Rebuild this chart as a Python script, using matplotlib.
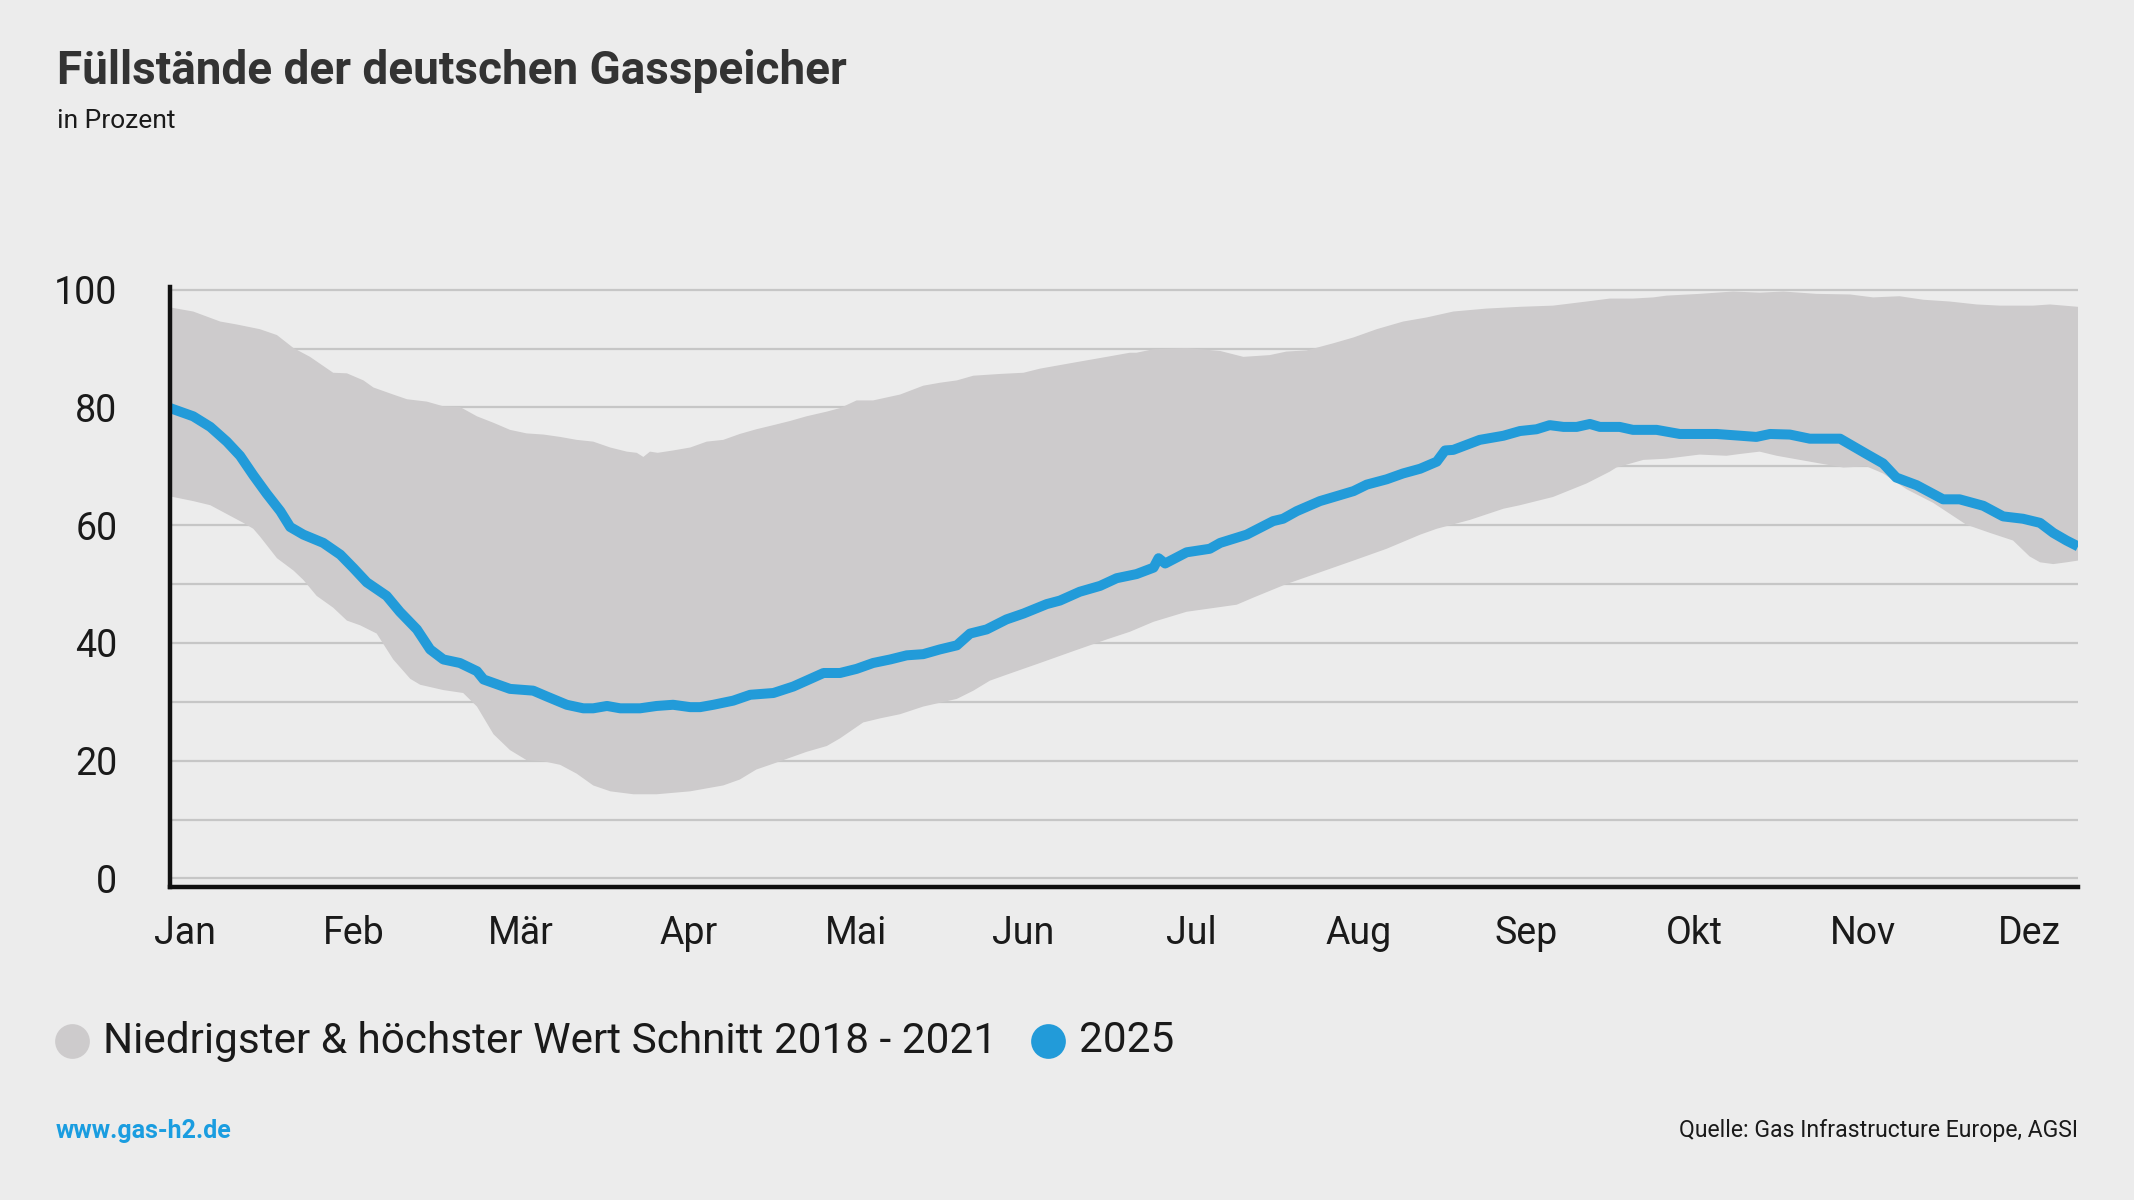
import matplotlib.pyplot as plt
from matplotlib.lines import Line2D
import numpy as np

plt.rcParams['font.family'] = ['Roboto', 'DejaVu Sans']

# band: lowest / highest value 2018-2021 (day of year, percent)
upper_x = [0, 4.2, 9.1, 12.1, 16.3, 19.4, 22.4, 25.4, 29.6, 32.1, 35.1, 36.9, 40.5, 43.0, 46.6,
           49.6, 52.6, 55.7, 58.7, 61.7, 64.7, 67.8, 70.8, 73.8, 76.8, 79.9, 82.9, 84.7, 85.9, 87.1,
           88.5, 91.3, 94.4, 97.4, 100.4, 103.4, 106.4, 109.5, 112.5, 115.5, 119.2, 121.6, 124.6,
           127.6, 132.5, 136.7, 139.7, 142.8, 145.8, 150.7, 154.9, 157.9, 163.9, 170.0, 174.2,
           175.4, 178.5, 184.5, 190.6, 194.8, 199.6, 202.6, 206.3, 211.1, 214.8, 219.0, 223.8,
           228.1, 232.9, 238.9, 245.0, 251.0, 257.1, 261.3, 265.5, 269.2, 271.6, 277.6, 283.7,
           288.5, 292.8, 298.8, 304.9, 309.1, 313.9, 318.2, 323.0, 327.9, 332.1, 338.1, 341.2, 346.3]
upper_y = [97.0, 96.3, 94.6, 94.1, 93.3, 92.3, 90.1, 88.6, 85.9, 85.8, 84.6, 83.4, 82.2, 81.4, 81.0,
           80.2, 80.1, 78.5, 77.4, 76.2, 75.6, 75.4, 75.0, 74.5, 74.2, 73.2, 72.5, 72.3, 71.6, 72.5,
           72.3, 72.7, 73.2, 74.2, 74.5, 75.5, 76.3, 77.0, 77.7, 78.5, 79.3, 79.9, 81.2,
           81.2, 82.2, 83.7, 84.2, 84.6, 85.4, 85.7, 85.9, 86.6, 87.6, 88.6, 89.3,
           89.3, 89.9, 90.1, 89.6, 88.6, 88.9, 89.5, 89.7, 90.9, 91.9, 93.3, 94.6,
           95.3, 96.3, 96.8, 97.1, 97.3, 98.0, 98.5, 98.5, 98.7, 99.0, 99.3, 99.7,
           99.5, 99.7, 99.3, 99.2, 98.7, 98.9, 98.3, 98.0, 97.5, 97.3, 97.3, 97.5, 97.1]

lower_x = [0, 4.2, 7.3, 10.3, 13.3, 15.1, 16.3, 19.4, 22.4, 24.2, 26.6, 29.6, 32.1, 34.5, 37.5,
           40.5, 43.6, 45.4, 49.6, 53.2, 55.7, 58.7, 61.7, 64.7, 67.8, 70.8, 73.8, 76.8, 79.9,
           84.1, 88.3, 94.4, 100.4, 103.4, 106.4, 109.5, 112.5, 115.5, 119.2, 121.6, 125.8,
           128.9, 132.5, 136.7, 142.8, 145.8, 148.8, 151.8, 157.9, 163.9, 170.0, 174.2,
           178.5, 184.5, 193.6, 196.6, 202.6, 208.7, 214.8, 220.8, 226.9, 229.9, 235.9, 242.0,
           245.0, 251.0, 257.1, 261.3, 262.5, 267.4, 271.6, 277.6, 282.5, 284.9, 288.5, 291.6,
           295.8, 299.4, 303.7, 307.9, 310.9, 315.2, 320.0, 326.0, 330.3, 334.5, 337.5, 339.4,
           341.8, 344.2, 346.3]
lower_y = [64.9, 64.1, 63.4, 61.9, 60.4, 59.4, 58.1, 54.4, 52.3, 50.7, 48.0, 46.0, 43.8, 43.0, 41.6,
           37.2, 33.9, 32.9, 32.0, 31.5, 29.2, 24.5, 21.8, 20.1, 19.9, 19.3, 17.8, 15.8, 14.8,
           14.3, 14.3, 14.8, 15.8, 16.8, 18.5, 19.5, 20.5, 21.5, 22.5, 23.8, 26.5,
           27.2, 27.9, 29.2, 30.5, 31.9, 33.6, 34.6, 36.6, 38.6, 40.6, 41.9,
           43.6, 45.3, 46.5, 47.7, 50.0, 52.0, 54.0, 56.0, 58.4, 59.4, 60.9, 62.8,
           63.4, 64.8, 67.1, 69.1, 69.8, 71.1, 71.3, 72.0, 71.8, 72.1, 72.5, 71.8,
           71.1, 70.5, 69.8, 70.0, 68.8, 66.1, 63.8, 60.1, 58.7, 57.4, 54.7, 53.7,
           53.4, 53.7, 54.0]

# 2025
x_2025 = [0, 4.2, 7.3, 10.3, 12.7, 15.1, 17.5, 20.0, 21.8, 24.2, 27.8, 30.9, 33.3, 35.7, 39.3,
          41.7, 44.8, 47.2, 49.6, 52.6, 55.7, 56.9, 58.7, 61.7, 65.9, 68.4, 72.0, 75.0, 76.8,
          79.3, 81.7, 85.3, 88.3, 91.3, 94.4, 96.2, 98.6, 102.2, 105.3, 109.5, 113.1, 115.5,
          118.6, 121.6, 124.6, 127.6, 130.7, 133.7, 136.7, 139.7, 142.8, 145.2, 148.2, 151.8,
          154.9, 159.1, 161.5, 165.1, 168.8, 171.8, 175.4, 178.5, 179.4, 180.6, 184.5, 188.7,
          190.6, 195.4, 200.2, 202.0, 204.5, 208.7, 212.3, 214.8, 217.2, 220.8, 223.8, 226.9,
          229.9, 231.4, 232.9, 237.7, 242.0, 245.0, 248.0, 250.4, 252.9, 255.3, 257.7, 259.5,
          263.1, 265.5, 269.8, 274.0, 280.7, 287.9, 290.4, 294.0, 297.6, 303.1, 307.9, 310.9,
          313.3, 317.0, 321.8, 324.8, 329.1, 332.7, 336.3, 339.4, 341.8, 344.2, 346.3]
y_2025 = [79.9, 78.5, 76.7, 74.2, 71.8, 68.5, 65.4, 62.4, 59.7, 58.4, 57.0, 55.0, 52.7, 50.3, 48.0,
          45.3, 42.3, 38.9, 37.2, 36.6, 35.2, 33.8, 33.2, 32.2, 31.9, 30.9, 29.5, 28.9, 28.9,
          29.3, 28.9, 28.9, 29.3, 29.5, 29.1, 29.1, 29.5, 30.2, 31.2, 31.5, 32.6, 33.6,
          34.9, 34.9, 35.6, 36.6, 37.2, 37.9, 38.1, 38.9, 39.6, 41.6, 42.3, 44.0,
          45.0, 46.6, 47.2, 48.7, 49.7, 51.0, 51.7, 52.8, 54.4, 53.5, 55.4, 56.0,
          57.0, 58.4, 60.7, 61.1, 62.4, 64.1, 65.1, 65.8, 66.9, 67.8, 68.8, 69.6,
          70.8, 72.7, 72.8, 74.5, 75.2, 76.0, 76.3, 77.0, 76.7, 76.7, 77.2, 76.7,
          76.7, 76.2, 76.2, 75.5, 75.5, 75.0, 75.5, 75.4, 74.7, 74.7, 72.1, 70.5,
          68.1, 66.8, 64.4, 64.4, 63.3, 61.5, 61.1, 60.4, 58.7, 57.4, 56.4]

months = ['Jan', 'Feb', 'Mär', 'Apr', 'Mai', 'Jun', 'Jul', 'Aug', 'Sep', 'Okt', 'Nov', 'Dez']
month_pos = [2.7, 33.4, 63.7, 94.2, 124.5, 154.9, 185.3, 215.7, 246.2, 276.7, 307.2, 337.5]

bg = '#ececec'
band_col = '#cdcbcc'
blue = '#229bd9'
txt = '#1a1a1a'

fig = plt.figure(figsize=(10.67, 6.0), dpi=200, facecolor=bg)
ax = fig.add_axes([0.0797, 0.2606, 0.9738 - 0.0797, 0.761 - 0.2606])
ax.set_facecolor(bg)

ax.fill(np.concatenate([upper_x, lower_x[::-1]]), np.concatenate([upper_y, lower_y[::-1]]),
        color=band_col, lw=0, zorder=2)
ax.plot(x_2025, y_2025, color=blue, lw=3.6, solid_capstyle='butt', solid_joinstyle='round', zorder=3)

ax.set_xlim(0, 346.3)
ax.set_ylim(-1.5, 100.5)
ax.set_yticks(range(0, 101, 20))
ax.set_yticks(range(10, 100, 20), minor=True)
ax.set_xticks(month_pos)
ax.set_xticklabels(months)
ax.grid(axis='y', which='both', color='#c6c6c6', lw=0.8, zorder=0)
ax.set_axisbelow(True)

for s in ['top', 'right']:
    ax.spines[s].set_visible(False)
for s in ['left', 'bottom']:
    ax.spines[s].set_color('#111111')
    ax.spines[s].set_linewidth(1.6)
    ax.spines[s].set_zorder(4)

ax.tick_params(axis='both', which='both', length=0, labelsize=13.5, colors=txt)
ax.tick_params(axis='y', pad=19)
ax.tick_params(axis='x', pad=10)

fig.text(0.0267, 0.930, 'Füllstände der deutschen Gasspeicher', fontsize=16.5, fontweight='bold',
         color='#333333', va='baseline')
fig.text(0.0267, 0.893, 'in Prozent', fontsize=9.5, color=txt, va='baseline')

# legend
fig.add_artist(Line2D([0.0338], [0.1325], transform=fig.transFigure, marker='o', ms=11.5,
                      color=band_col, lw=0))
fig.text(0.0483, 0.1325, 'Niedrigster & höchster Wert Schnitt 2018 - 2021', fontsize=15.2,
         color=txt, va='center')
fig.add_artist(Line2D([0.491], [0.1325], transform=fig.transFigure, marker='o', ms=11.5,
                      color=blue, lw=0))
fig.text(0.5056, 0.1325, '2025', fontsize=15.2, color=txt, va='center')

# footer
fig.text(0.0262, 0.0575, 'www.gas-h2.de', fontsize=9, fontweight='bold', color='#1a9de0', va='center')
fig.text(0.9738, 0.0575, 'Quelle: Gas Infrastructure Europe, AGSI', fontsize=8.3, color=txt,
         va='center', ha='right')

fig.savefig('out.png', dpi=200, facecolor=bg)
